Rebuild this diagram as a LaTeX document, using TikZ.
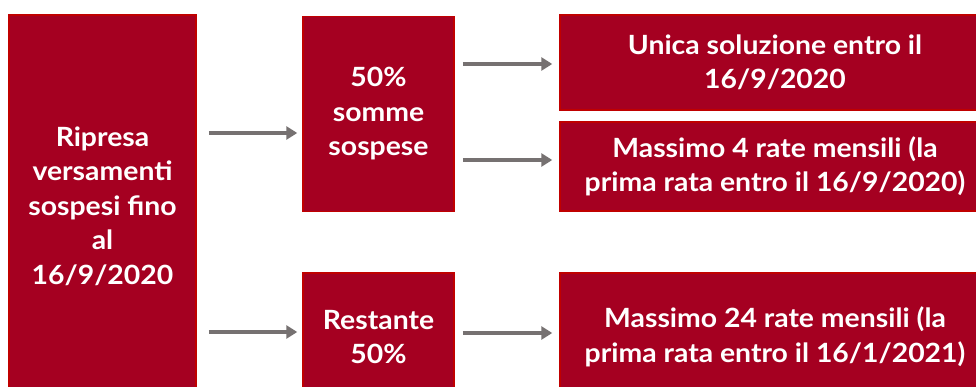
\documentclass[tikz,border=0pt]{standalone}
\usepackage{fontspec}
\setmainfont{Lato}[FakeStretch=1.07]
\usetikzlibrary{arrows.meta}
\definecolor{boxfill}{HTML}{A50021}
\definecolor{boxline}{HTML}{C00000}
\definecolor{arrgray}{HTML}{767171}
\tikzset{
  redbox/.style={draw=boxline, line width=1.5pt, fill=boxfill, text=white,
    font=\fontsize{26.5}{34.5}\selectfont\bfseries, align=center, inner sep=0pt,
    rectangle, anchor=center},
  arr/.style={draw=arrgray, line width=3.5pt, -{Triangle[length=11pt,width=13pt]}}
}
\begin{document}
\begin{tikzpicture}[x=1pt,y=-1pt]
\useasboundingbox[fill=white] (0,0) rectangle (976,387);
\begin{scope}
\clip (0,0) rectangle (976,387);
\node[redbox, minimum width=187pt, minimum height=382pt] (L) at (102.5,206) {Ripresa\\versamenti\\sospesi fino\\al\\16/9/2020};
\node[redbox, minimum width=151pt, minimum height=195pt] (M1) at (378.5,114) {50\%\\somme\\sospese};
\node[redbox, minimum width=151pt, minimum height=128pt] (M2) at (378.5,337) {Restante\\50\%};
\node[redbox, minimum width=430pt, minimum height=95pt] (R1) at (775,62.5) {Unica soluzione entro il\\16/9/2020};
\node[redbox, minimum width=430pt, minimum height=89pt] (R2) at (775,166.5) {Massimo 4 rate mensili (la\\prima rata entro il 16/9/2020)};
\node[redbox, minimum width=430pt, minimum height=128pt] (R3) at (775,337) {Massimo 24 rate mensili (la\\prima rata entro il 16/1/2021)};
\end{scope}
\draw[arr] ([xshift=12pt]L.east |- 0,133) -- ([xshift=-5pt]M1.west |- 0,133);
\draw[arr] ([xshift=12pt]L.east |- 0,332) -- ([xshift=-5pt]M2.west |- 0,332);
\draw[arr] ([xshift=8pt]M1.east |- 0,64) -- ([xshift=-7pt]R1.west |- 0,64);
\draw[arr] ([xshift=8pt]M1.east |- 0,160) -- ([xshift=-7pt]R2.west |- 0,160);
\draw[arr] ([xshift=8pt]M2.east |- 0,333) -- ([xshift=-7pt]R3.west |- 0,333);
\end{tikzpicture}
\end{document}
